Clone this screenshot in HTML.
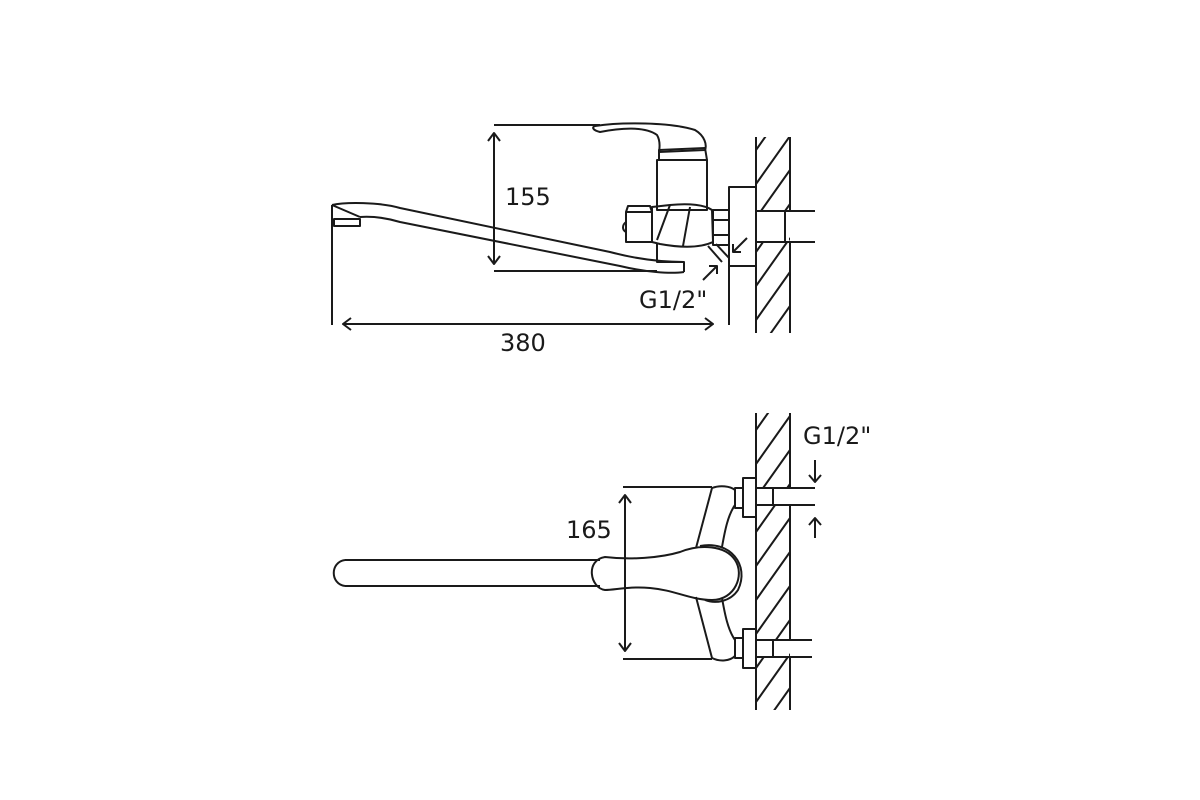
<!DOCTYPE html>
<html><head><meta charset="utf-8"><style>
html,body{margin:0;padding:0;background:#fff;}
svg{display:block}
text{font-family:"DejaVu Sans","Liberation Sans",sans-serif;font-size:24px;fill:#1a1a1a}
</style></head><body>
<svg width="1200" height="800" viewBox="0 0 1200 800" xmlns="http://www.w3.org/2000/svg">
<defs>
<clipPath id="w1"><rect x="756" y="137" width="34" height="196"/></clipPath>
<clipPath id="w2"><rect x="756" y="413" width="34" height="297"/></clipPath>
</defs>
<g fill="none" stroke="#1a1a1a" stroke-width="2" stroke-linejoin="round">
<line x1="756" y1="137" x2="756" y2="333"/>
<line x1="790" y1="137" x2="790" y2="211"/>
<line x1="790" y1="242" x2="790" y2="333"/>
<g clip-path="url(#w1)">
<path d="M756 150 L790 102 M756 184 L790 136 M756 218 L790 170 M756 252 L790 204 M756 286 L790 238 M756 320 L790 272 M756 354 L790 306 M756 388 L790 340"/>
</g>
<rect x="757" y="212" width="32" height="29" fill="#fff" stroke="none"/>
<line x1="756" y1="211" x2="815" y2="211"/>
<line x1="756" y1="242" x2="815" y2="242"/>
<line x1="785" y1="211" x2="785" y2="242"/>
<path d="M729 325 L729 187 L756 187 M729 266 L756 266"/>
<rect x="713" y="210" width="16" height="35"/>
<line x1="713" y1="220" x2="729" y2="220"/><line x1="713" y1="235" x2="729" y2="235"/>
<rect x="657" y="160" width="50" height="50"/>
<path d="M659 160 L659 150 L705 148 L707 160"/>
<path d="M595 126 C620 122,670 122,695 130 C705 136,707 145,705 150 L659 152 C660 146,660 140,657 135 C645 126,620 128,600 132 C592 130,592 127,595 126 Z"/>
<path d="M652 207 L670 205 C690 203,705 205,712 210 L713 242 C700 248,682 248,660 244 L652 242 Z"/>
<path d="M670 205 L657 240 M690 207 L683 246"/>
<rect x="626" y="212" width="26" height="30"/>
<path d="M626 212 L628 206 L650 206 L652 212"/>
<path d="M626 222 C622 225,622 230,626 232"/>
<path d="M657 244 L657 262 L684 262 L684 272"/>
<path d="M332 205 C345 202,380 202,400 208 L610 252 C640 260,665 262,684 262"/>
<path d="M360 217 C375 216,390 219,400 222 L620 266 C645 272,670 274,684 272"/>
<path d="M332 205 L360 217 M332 205 L332 325"/>
<rect x="334" y="219" width="26" height="7"/>
<line x1="494" y1="125" x2="600" y2="125"/>
<line x1="494" y1="271" x2="657" y2="271"/>
<line x1="494" y1="133" x2="494" y2="264"/>
<path d="M488 141 L494 133 L500 141 M488 256 L494 264 L500 256"/>
<line x1="343" y1="324" x2="713" y2="324"/>
<path d="M351 318 L343 324 L351 330 M705 318 L713 324 L705 330"/>
<path d="M708 246 L722 262 M716 244 L729 258"/>
<path d="M703 280 L717 266 M709 266 L717 266 L717 274"/>
<path d="M747 238 L733 252 M733 244 L733 252 L741 252"/>
<line x1="756" y1="413" x2="756" y2="710"/>
<line x1="790" y1="413" x2="790" y2="488"/>
<line x1="790" y1="505" x2="790" y2="640"/>
<line x1="790" y1="657" x2="790" y2="710"/>
<g clip-path="url(#w2)">
<path d="M756 430 L790 382 M756 464 L790 416 M756 498 L790 450 M756 532 L790 484 M756 566 L790 518 M756 600 L790 552 M756 634 L790 586 M756 668 L790 620 M756 702 L790 654 M756 736 L790 688 M756 770 L790 722"/>
</g>
<rect x="757" y="489" width="32" height="15" fill="#fff" stroke="none"/>
<rect x="757" y="641" width="32" height="15" fill="#fff" stroke="none"/>
<path d="M756 488 L815 488 M756 505 L815 505 M773 488 L773 505"/>
<path d="M756 640 L812 640 M756 657 L812 657 M773 640 L773 657"/>
<rect x="743" y="478" width="13" height="39" fill="#fff"/>
<rect x="743" y="629" width="13" height="39" fill="#fff"/>
<rect x="735" y="488" width="8" height="20"/>
<rect x="735" y="638" width="8" height="20"/>
<path d="M712 488 C720 485,730 486,735 490 L735 505 C728 515,725 530,722 547 M712 488 L696 548 M712 658 C720 662,730 661,735 656 L735 640 C728 630,725 615,722 598 M712 658 L696 597"/>
<path d="M345 560 L600 560 M345 586 L600 586 M345 560 C330 562,330 584,345 586"/>
<path d="M605 557 C630 560,660 558,680 552 C700 544,725 545,735 560 C745 575,735 600,712 600 C690 600,675 590,650 588 C630 586,615 590,605 590 C590 588,585 560,605 557 Z"/>
<path d="M700 546 C730 540,750 565,738 590 C730 602,715 604,705 600"/>
<line x1="623" y1="487" x2="712" y2="487"/>
<line x1="623" y1="659" x2="712" y2="659"/>
<line x1="625" y1="495" x2="625" y2="651"/>
<path d="M619 503 L625 495 L631 503 M619 643 L625 651 L631 643"/>
<path d="M815 460 L815 482 M809 475 L815 482 L821 475"/>
<path d="M815 538 L815 518 M809 525 L815 518 L821 525"/>
</g>
<text x="505" y="205">155</text>
<text x="500" y="351">380</text>
<text x="639" y="308">G1/2"</text>
<text x="566" y="538">165</text>
<text x="803" y="444">G1/2"</text>
</svg>
</body></html>
